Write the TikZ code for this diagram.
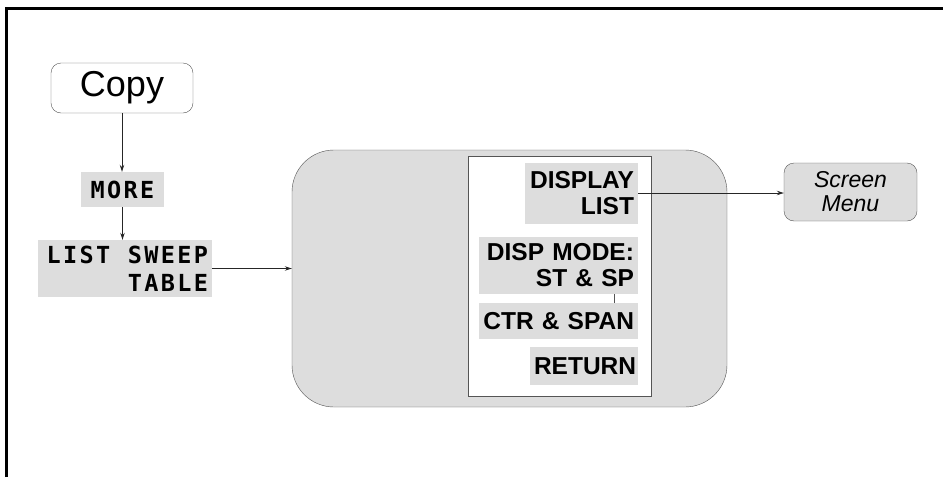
\documentclass[tikz,border=0pt]{standalone}
\usepackage{fontspec}
\setmainfont{Liberation Sans}
\newfontfamily\hpmono[LetterSpace=10]{DejaVu Sans Mono}
\usetikzlibrary{arrows.meta,positioning,calc}
\definecolor{dots}{HTML}{DDDDDD}
\definecolor{rim}{HTML}{555555}
\tikzset{box/.style={draw=rim,fill=white,rounded corners=10pt,align=center,inner sep=0pt},key/.style={fill=dots,align=right,font=\bfseries\fontsize{24.5}{26}\selectfont,inner xsep=4pt,inner ysep=0pt},soft/.style={fill=dots,align=right,font=\hpmono\bfseries\fontsize{23.5}{28}\selectfont,inner xsep=4pt,inner ysep=0pt},flow/.style={-{Stealth[length=7pt,width=4.5pt]},line width=.8pt,draw=black!85}}

\begin{document}
\begin{tikzpicture}[x=1pt,y=-1pt]
\useasboundingbox (0,0) rectangle (943,477);
\draw[line width=2.2pt] (6.5,477)--(6.5,8.5)--(943,8.5);
\node[box,minimum width=142,minimum height=50,font=\fontsize{36}{38}\selectfont] (copy) at (122,88) {Copy};
\node[soft,minimum width=83,minimum height=35,align=center] (more) at (122.5,189.5) {MORE};
\node[soft,text width=166,minimum height=57] (sweep) at (125,268.5) {LIST\hspace{.75em}SWEEP\\TABLE};
\node[box,fill=dots,rounded corners=42pt,minimum width=435,minimum height=257] (menu) at (509.5,278.5) {};
\node[draw=rim,fill=white,minimum width=183,minimum height=240,inner sep=0pt] (panel) at (559.5,276) {};
\node[key,text width=105,minimum height=61] (disp) at (581.5,193) {DISPLAY\\LIST};
\node[key,text width=151,minimum height=57] (mode) at (558.5,265.5) {DISP MODE:\\ST \& SP};
\node[key,text width=151,minimum height=36] (ctr) at (558.5,321) {CTR \& SPAN};
\node[key,text width=100,minimum height=38] (ret) at (584,366) {RETURN};
\node[box,fill=dots,minimum width=133,minimum height=58,font=\itshape\fontsize{23}{24}\selectfont] (scr) at (850.5,192) {Screen\\Menu};
\draw[flow](copy.south)--(copy.south|-more.north);
\draw[flow](more.south)--(more.south|-sweep.north);
\draw[flow](sweep.east)--(sweep.east-|menu.west);
\draw[flow](disp.east)--(disp.east-|scr.west);
\draw[rim]($(mode.south east)+(-24,0)$)--($(ctr.north east)+(-24,0)$);
\end{tikzpicture}
\end{document}
